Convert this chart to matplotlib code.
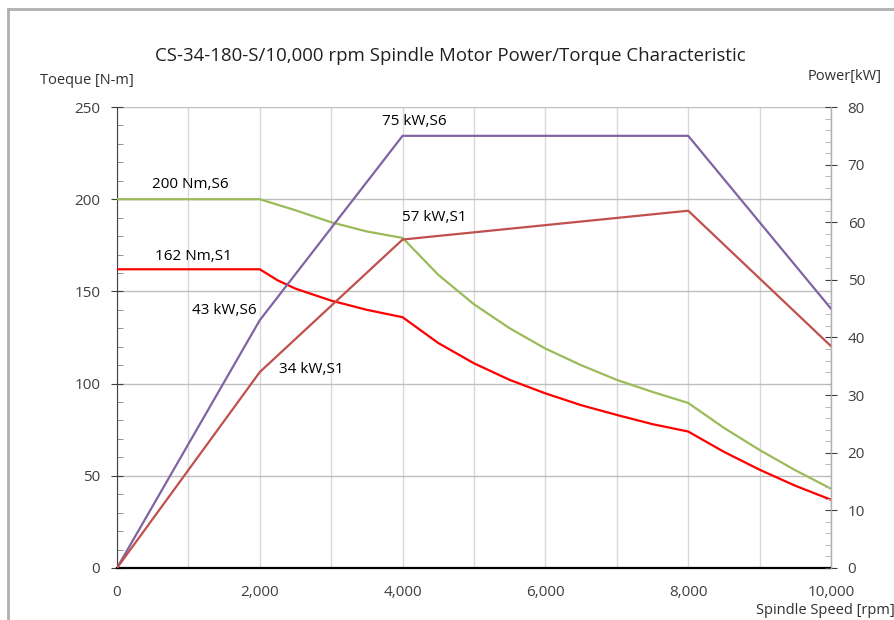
import matplotlib.pyplot as plt
from matplotlib.ticker import MultipleLocator, FuncFormatter
from matplotlib.lines import Line2D

plt.rcParams['font.family'] = ['Open Sans', 'DejaVu Sans']

# Velocidad del husillo (rpm)
speed_power = [0, 2000, 4000, 8000, 10000]
power_s6 = [0, 43, 75, 75, 45]
power_s1 = [0, 34, 57, 62, 38.5]

speed_torque = [0, 500, 1000, 1500, 2000, 2250, 2500, 3000, 3500, 4000, 4500, 5000,
                5500, 6000, 6500, 7000, 7500, 8000, 8500, 9000, 9500, 10000]
torque_s6 = [200, 200, 200, 200, 200, 197, 194, 187.5, 182.5, 179, 159, 143,
             130, 119, 110, 102, 95.5, 89.5, 76, 64, 53, 43]
torque_s1 = [162, 162, 162, 162, 162, 156, 151.5, 145, 140, 136, 122, 111,
             102, 94.7, 88.3, 83, 78, 74, 63, 53.3, 44.6, 37]

fig = plt.figure(figsize=(8.95, 6.2), dpi=100)
ax = fig.add_axes([0.1307, 0.0839, 0.7978, 0.7435])
ax2 = ax.twinx()

# Marco gris de la figura
fig.add_artist(Line2D([0.009, 0.009], [0, 0.985], color='#b0b0b0', lw=2, transform=fig.transFigure))
fig.add_artist(Line2D([0.009, 1], [0.985, 0.985], color='#b0b0b0', lw=2, transform=fig.transFigure))

ax.plot(speed_torque, torque_s6, color='#9BBB59', lw=1.6, zorder=3)
ax.plot(speed_torque, torque_s1, color='#FF0000', lw=1.6, zorder=3)
ax2.plot(speed_power, power_s6, color='#8064A2', lw=1.6)
ax2.plot(speed_power, power_s1, color='#C0504D', lw=1.6)

ax.set_xlim(0, 10000)
ax.set_ylim(0, 250)
ax2.set_ylim(0, 80)

ax.xaxis.set_major_locator(MultipleLocator(2000))
ax.xaxis.set_minor_locator(MultipleLocator(1000))
ax.xaxis.set_major_formatter(FuncFormatter(lambda v, p: '{:,.0f}'.format(v)))
ax.yaxis.set_major_locator(MultipleLocator(50))
ax.yaxis.set_minor_locator(MultipleLocator(10))
ax2.yaxis.set_major_locator(MultipleLocator(10))
ax2.yaxis.set_minor_locator(MultipleLocator(2))

ax.grid(True, which='major', axis='y', color='#bfbfbf', lw=1)
ax.grid(True, which='both', axis='x', color='#d9d9d9', lw=1)
ax.set_axisbelow(True)

ax.tick_params(axis='x', which='both', length=0, labelsize=11, colors='#404040', pad=12)
ax.tick_params(axis='y', which='major', direction='inout', length=8, labelsize=11, colors='#404040', pad=8)
ax.tick_params(axis='y', which='minor', direction='in', length=4, color='#808080')
ax2.tick_params(axis='y', which='major', direction='inout', length=8, labelsize=11, colors='#404040', pad=8)
ax2.tick_params(axis='y', which='minor', direction='in', length=4, color='#b0b0b0')

for a in (ax, ax2):
    a.spines['top'].set_visible(False)
ax.spines['bottom'].set_linewidth(1.6)
ax.spines['left'].set_color('#404040')
ax2.spines['right'].set_color('#b0b0b0')
ax2.spines['left'].set_visible(False)
ax2.spines['bottom'].set_visible(False)

fig.text(0.503, 0.910, 'CS-34-180-S/10,000 rpm Spindle Motor Power/Torque Characteristic',
         ha='center', va='center', fontsize=13.4, color='#202020')
fig.text(0.045, 0.870, 'Toeque [N-m]', ha='left', va='center', fontsize=10.5, color='#303030')
fig.text(0.985, 0.876, 'Power[kW]', ha='right', va='center', fontsize=10.5, color='#303030')
fig.text(1.0, 0.016, 'Spindle Speed [rpm]', ha='right', va='center', fontsize=10.5, color='#303030')

# Etiquetas de los puntos
ax2.text(4170, 77.4, '75 kW,S6', ha='center', va='center', fontsize=11)
ax.text(1030, 208, '200 Nm,S6', ha='center', va='center', fontsize=11)
ax2.text(4440, 60.9, '57 kW,S1', ha='center', va='center', fontsize=11)
ax.text(1064, 169, '162 Nm,S1', ha='center', va='center', fontsize=11)
ax2.text(1500, 44.6, '43 kW,S6', ha='center', va='center', fontsize=11)
ax2.text(2717, 34.4, '34 kW,S1', ha='center', va='center', fontsize=11)

fig.savefig('out.png', dpi=100)
